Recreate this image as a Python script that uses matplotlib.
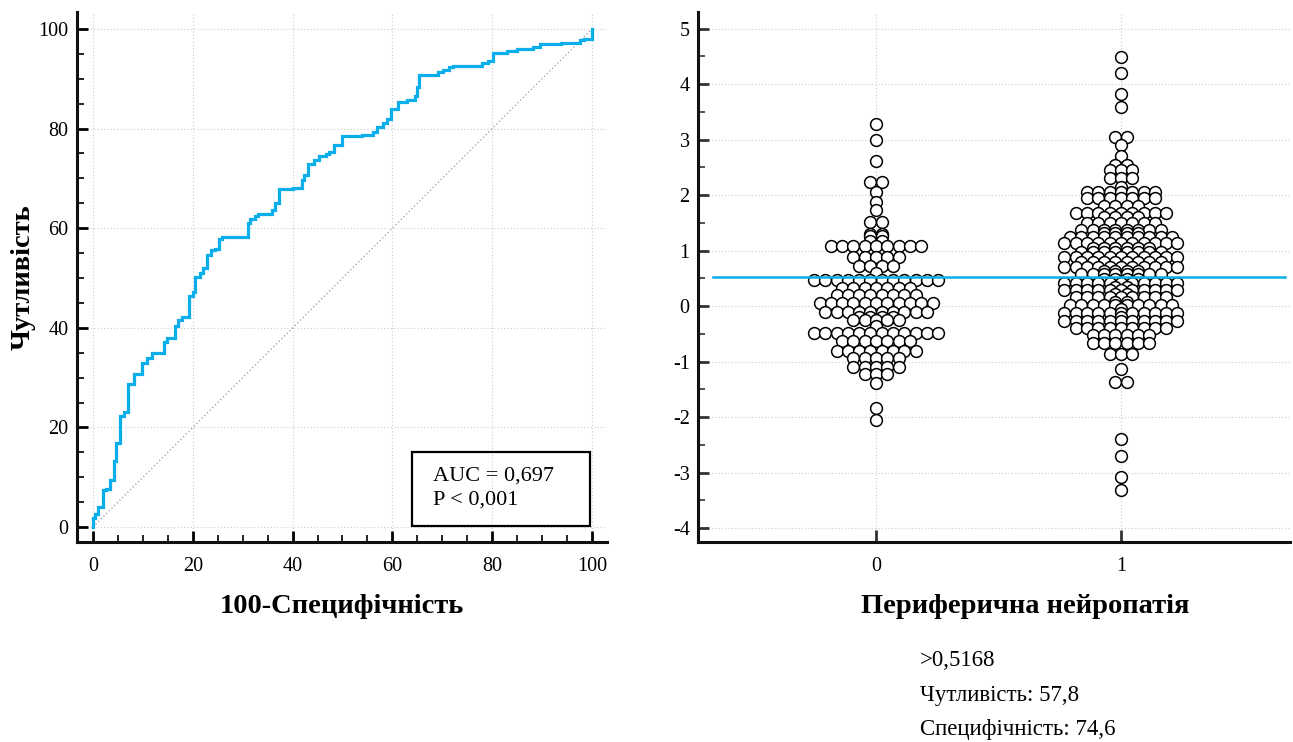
import numpy as np
import matplotlib
matplotlib.use("Agg")
import matplotlib.pyplot as plt
from matplotlib.ticker import MultipleLocator
from matplotlib.patches import Rectangle

plt.rcParams['font.family'] = ['Liberation Serif', 'DejaVu Serif']
plt.rcParams['axes.unicode_minus'] = False

BLUE = "#0AAEEA"

# ROC curve corners: (100-specificity, sensitivity), level reached at each x
roc_x = [0, 0, 0.5, 1.1, 2.1, 2.7, 3.5, 4.2, 4.7, 5.5, 6.3, 7.1, 8.3, 9.9, 10.8,
         11.9, 14.3, 14.9, 16.4, 17.0, 17.8, 19.2, 20.0, 20.5, 21.4, 22.1, 22.8,
         23.6, 24.4, 25.2, 25.8, 31.0, 31.5, 32.5, 33.1, 35.9, 36.5, 37.3, 40.1,
         41.8, 42.3, 43.1, 44.3, 45.3, 46.6, 47.3, 48.2, 49.8, 54.0, 56.2, 57.0,
         58.2, 59.0, 59.7, 61.2, 62.9, 64.5, 64.9, 65.4, 69.2, 70.1, 71.4, 72.2,
         77.9, 79.2, 80.1, 82.9, 85.0, 88.2, 89.6, 93.7, 97.5, 98.3, 100.0, 100.0]
roc_y = [0, 1.9, 2.7, 4.0, 7.4, 7.6, 9.4, 13.3, 16.9, 22.2, 23.0, 28.7, 30.7, 32.9,
         33.9, 34.9, 37.2, 38.0, 40.4, 41.6, 42.2, 46.3, 47.1, 50.3, 51.1, 52.1,
         54.6, 55.6, 55.8, 57.8, 58.2, 61.0, 61.8, 62.5, 62.8, 63.6, 65.1, 67.8,
         68.0, 69.7, 70.7, 72.9, 73.7, 74.4, 74.9, 75.2, 76.6, 78.5, 78.7, 79.4,
         80.4, 81.1, 81.9, 83.9, 85.4, 85.7, 86.6, 88.4, 90.8, 91.4, 91.8, 92.3,
         92.6, 93.2, 93.6, 95.1, 95.5, 95.9, 96.3, 96.9, 97.1, 97.7, 98.0, 98.0, 100.0]

auc_text = "AUC = 0,697\nP < 0,001"

# dot plot values, group 0 (no neuropathy) and group 1 (neuropathy)
group0 = [3.28, 3.0, 2.62, 2.24, 2.24, 2.06, 1.88, 1.73, 1.52, 1.52,
          1.3, 1.3, 1.27, 1.27,
          1.17, 1.17, 1.08, 1.08, 1.08, 1.08, 1.08, 1.08, 1.08, 1.08, 1.08,
          0.88, 0.88, 0.88, 0.88, 0.88, 0.73, 0.73, 0.73, 0.73, 0.6,
          0.47, 0.47, 0.47, 0.47, 0.47, 0.47, 0.47, 0.47, 0.47, 0.47, 0.47, 0.47,
          0.33, 0.33, 0.33, 0.33, 0.33, 0.33, 0.33,
          0.2, 0.2, 0.2, 0.2, 0.2, 0.2, 0.2, 0.2,
          0.05, 0.05, 0.05, 0.05, 0.05, 0.05, 0.05, 0.05, 0.05, 0.05, 0.05,
          -0.1, -0.1, -0.1, -0.1, -0.1, -0.1, -0.1, -0.1, -0.1, -0.1,
          -0.2, -0.2, -0.2, -0.2, -0.25, -0.25, -0.25, -0.25, -0.25,
          -0.35,
          -0.49, -0.49, -0.49, -0.49, -0.49, -0.49, -0.49, -0.49, -0.49, -0.49, -0.49, -0.49,
          -0.63, -0.63, -0.63, -0.63, -0.63, -0.63, -0.63,
          -0.8, -0.8, -0.8, -0.8, -0.8, -0.8, -0.8, -0.8,
          -0.94, -0.94, -0.94, -0.94, -0.94,
          -1.1, -1.1, -1.1, -1.1, -1.1,
          -1.22, -1.22, -1.22, -1.38, -1.84, -2.05]

group1 = [4.49, 4.2, 3.83, 3.59,
          3.05, 3.05, 2.9, 2.7, 2.55, 2.55, 2.45, 2.45, 2.45, 2.3, 2.3, 2.3, 2.15,
          2.05, 2.05, 2.05, 2.05, 2.05, 2.05, 2.05,
          1.95, 1.95, 1.95, 1.95, 1.95, 1.95, 1.95,
          1.8, 1.8, 1.8, 1.8,
          1.68, 1.68, 1.68, 1.68, 1.68, 1.68, 1.68, 1.68, 1.68,
          1.6, 1.6, 1.6, 1.6,
          1.5, 1.5, 1.5, 1.5, 1.5, 1.5, 1.5,
          1.38, 1.38, 1.38, 1.38, 1.38, 1.38, 1.38, 1.38,
          1.32, 1.32, 1.32, 1.32,
          1.24, 1.24, 1.24, 1.24, 1.24, 1.24, 1.24, 1.24, 1.24, 1.24,
          1.13, 1.13, 1.13, 1.13, 1.13, 1.13, 1.13, 1.13, 1.13, 1.13, 1.13,
          1.05, 1.05, 1.05, 1.05, 1.05, 1.05,
          0.98, 0.98, 0.98, 0.98, 0.98, 0.98, 0.98, 0.98,
          0.88, 0.88, 0.88, 0.88, 0.88, 0.88, 0.88, 0.88, 0.88, 0.88, 0.88,
          0.79, 0.79, 0.79, 0.79, 0.79, 0.79, 0.79, 0.79,
          0.7, 0.7, 0.7, 0.7, 0.7, 0.7, 0.7, 0.7, 0.7, 0.7, 0.7,
          0.64, 0.64, 0.64, 0.64,
          0.58, 0.58, 0.58, 0.58, 0.58, 0.58, 0.58, 0.58,
          0.48, 0.48, 0.48, 0.48,
          0.41, 0.41, 0.41, 0.41, 0.41, 0.41, 0.41, 0.41, 0.41, 0.41, 0.41,
          0.35, 0.35,
          0.29, 0.29, 0.29, 0.29, 0.29, 0.29, 0.29, 0.29, 0.29, 0.29, 0.29,
          0.22, 0.22,
          0.16, 0.16, 0.16, 0.16, 0.16, 0.16, 0.16, 0.16, 0.16,
          0.08, 0.08,
          0.02, 0.02, 0.02, 0.02, 0.02, 0.02, 0.02, 0.02, 0.02, 0.02,
          -0.05,
          -0.13, -0.13, -0.13, -0.13, -0.13, -0.13, -0.13, -0.13, -0.13, -0.13, -0.13,
          -0.2,
          -0.27, -0.27, -0.27, -0.27, -0.27, -0.27, -0.27, -0.27, -0.27, -0.27, -0.27,
          -0.4, -0.4, -0.4, -0.4, -0.4, -0.4, -0.4, -0.4, -0.4,
          -0.52, -0.52, -0.52, -0.52, -0.52, -0.52,
          -0.67, -0.67, -0.67, -0.67, -0.67, -0.67,
          -0.86, -0.86, -0.86,
          -1.14, -1.36, -1.36, -2.4, -2.7, -3.08, -3.31]

cutoff = 0.5168
cut_text = [">0,5168", "Чутливість: 57,8", "Специфічність: 74,6"]


def row_offsets(vals, sp):
    # dots with the same value sit side by side, centred on the group
    offs = np.zeros(len(vals))
    for v in np.unique(vals):
        idx = np.where(vals == v)[0]
        n = len(idx)
        offs[idx] = (np.arange(n) - (n - 1) / 2) * sp
    return offs


W, H = 1293, 742
fig = plt.figure(figsize=(W / 100, H / 100), dpi=100)

# ---------------- ROC curve ----------------
ax1 = fig.add_axes([77 / W, 1 - 542 / H, 530 / W, 530 / H])
ax1.set_xlim(-3.2, 103)
ax1.set_ylim(-3, 103.4)
ax1.plot([0, 100], [0, 100], ls=(0, (1, 2)), color="#999999", lw=0.9)
ax1.plot(roc_x, roc_y, drawstyle="steps-post", color=BLUE, lw=2.3, solid_joinstyle="miter")

ax1.xaxis.set_major_locator(MultipleLocator(20))
ax1.yaxis.set_major_locator(MultipleLocator(20))
ax1.xaxis.set_minor_locator(MultipleLocator(5))
ax1.yaxis.set_minor_locator(MultipleLocator(5))
ax1.grid(True, which="major", ls=(0, (1, 2)), color="#cccccc", lw=0.8)
ax1.set_axisbelow(True)

ax1.set_xlabel("100-Специфічність", fontsize=20.5, fontweight="bold", labelpad=13)
ax1.set_ylabel("Чутливість", fontsize=20.5, fontweight="bold", labelpad=2)

ax1.add_patch(Rectangle((0.632, 0.030), 0.336, 0.140, transform=ax1.transAxes,
                        fill=False, ec="black", lw=1.6, zorder=5))
ax1.text(0.672, 0.102, auc_text, transform=ax1.transAxes, fontsize=16,
         va="center", ha="left", linespacing=1.35, zorder=6)

# ---------------- dot plot ----------------
ax2 = fig.add_axes([698 / W, 1 - 542 / H, 592 / W, 530 / H])
ax2.set_xlim(-0.727, 1.69)
ax2.set_ylim(-4.25, 5.3)
ax2.set_xticks([0, 1])
ax2.yaxis.set_major_locator(MultipleLocator(1))
ax2.yaxis.set_minor_locator(MultipleLocator(0.5))
ax2.grid(True, which="major", ls=(0, (1, 2)), color="#cccccc", lw=0.8)
ax2.set_axisbelow(True)

for gx, vals in [(0, group0), (1, group1)]:
    vals = np.array(vals)
    pts = ax2.transData.transform(np.column_stack([np.full(len(vals), gx), vals]))
    pts[:, 0] += row_offsets(vals, 11.3)
    data = ax2.transData.inverted().transform(pts)
    ax2.scatter(data[:, 0], data[:, 1], s=72, facecolor="white", edgecolor="black",
                linewidth=1.1, zorder=3)

ax2.plot([-0.665, 1.67], [cutoff, cutoff], color=BLUE, lw=1.8, zorder=4)

ax2.set_xlabel("Периферична нейропатія", fontsize=20.5, fontweight="bold",
               labelpad=13, x=0.552)

for ax, tcol in [(ax1, "black"), (ax2, "#333333")]:
    for s in ["top", "right"]:
        ax.spines[s].set_visible(False)
    for s in ["left", "bottom"]:
        ax.spines[s].set_linewidth(2.2)
        ax.spines[s].set_color("#111111")
    ax.tick_params(which="major", direction="in", length=8, width=2.0,
                   color=tcol, labelsize=14.5)
    ax.tick_params(which="minor", direction="in", length=5, width=1.2, color=tcol)
    ax.tick_params(axis="x", which="major", pad=11)
    ax.tick_params(axis="y", which="major", pad=6)

ax2.tick_params(axis="x", which="major", length=9)

for i, t in enumerate(cut_text):
    fig.text(920 / W, 1 - (661 + 34 * i) / H, t, fontsize=16.5, ha="left", va="center")

fig.savefig("out.png", dpi=100)
